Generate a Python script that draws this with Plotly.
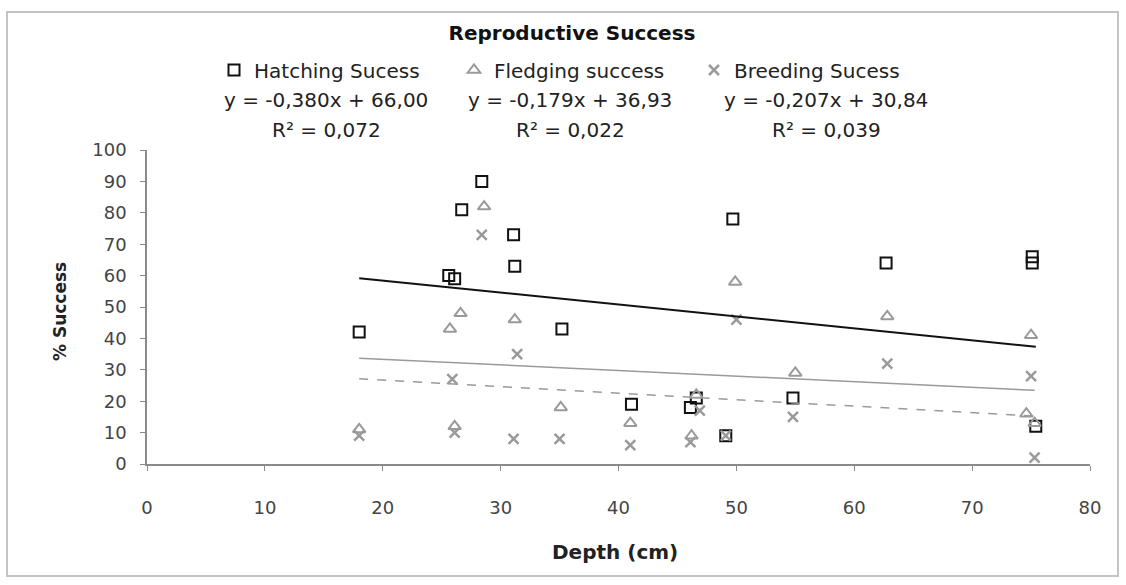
import plotly.graph_objects as go

# Nest depth (cm) and reproductive success (%) per nest
hatch_depth = [18.0, 25.6, 26.1, 26.7, 28.4, 31.1, 31.2, 35.2, 41.1, 46.1, 46.6, 49.1, 49.7, 54.8, 62.7, 75.1, 75.1, 75.4]
hatch_success = [42, 60, 59, 81, 90, 73, 63, 43, 19, 18, 21, 9, 78, 21, 64, 64, 66, 12]

fledge_depth = [18.0, 25.7, 26.6, 26.1, 28.6, 31.2, 35.1, 41.0, 46.2, 46.6, 49.9, 55.0, 62.8, 74.6, 75.0, 75.3]
fledge_success = [11, 43, 48, 12, 82, 46, 18, 13, 9, 22, 58, 29, 47, 16, 41, 13]

breed_depth = [18.0, 25.9, 26.1, 28.4, 31.1, 31.4, 35.0, 41.0, 46.1, 46.9, 49.1, 50.0, 54.8, 62.8, 75.0, 75.3]
breed_success = [9, 27, 10, 73, 8, 35, 8, 6, 7, 17, 9, 46, 15, 32, 28, 2]

# Linear trend coefficients (slope, intercept, R²)
series_names = ["Hatching Sucess", "Fledging success", "Breeding Sucess"]
slopes = [-0.380, -0.179, -0.207]
intercepts = [66.00, 36.93, 30.84]
r_squared = [0.072, 0.022, 0.039]

x_ticks = [0, 10, 20, 30, 40, 50, 60, 70, 80]
y_ticks = [0, 10, 20, 30, 40, 50, 60, 70, 80, 90, 100]

FONT = "DejaVu Sans"
GRAY = "#9a9a9a"

fig = go.Figure()

marker_styles = [
    dict(symbol="square-open", size=11, color="#111111", line=dict(width=2, color="#111111")),
    dict(symbol="triangle-up-open", size=11, color=GRAY, line=dict(width=2, color=GRAY)),
    dict(symbol="x-thin-open", size=10, color=GRAY, line=dict(width=2.5, color=GRAY)),
]
line_styles = [
    dict(color="#111111", width=2),
    dict(color=GRAY, width=1.5),
    dict(color=GRAY, width=1.5, dash="dash"),
]
datasets = [(hatch_depth, hatch_success), (fledge_depth, fledge_success), (breed_depth, breed_success)]

for i, (xs, ys) in enumerate(datasets):
    fig.add_trace(go.Scatter(
        x=xs, y=ys, mode="markers", name=series_names[i],
        marker=marker_styles[i], showlegend=True,
    ))

# Trend lines over the observed depth range of each series
for i, (xs, ys) in enumerate(datasets):
    x0, x1 = min(xs), max(xs)
    fig.add_trace(go.Scatter(
        x=[x0, x1],
        y=[slopes[i] * x0 + intercepts[i], slopes[i] * x1 + intercepts[i]],
        mode="lines", line=line_styles[i], showlegend=False, hoverinfo="skip",
    ))

# Equation and R² labels under each legend entry
label_centres = [(326 - 147) / 943, (570 - 147) / 943, (826 - 147) / 943]
for i in range(3):
    eq = f"y = {slopes[i]:.3f}x + {intercepts[i]:.2f}".replace(".", ",")
    r2 = f"R² = {r_squared[i]:.3f}".replace(".", ",")
    fig.add_annotation(x=label_centres[i], y=(464 - 100) / 314, xref="paper", yref="paper",
                       text=eq, showarrow=False, xanchor="center", yanchor="middle",
                       font=dict(family=FONT, size=20, color="#222222"))
    fig.add_annotation(x=label_centres[i], y=(464 - 130) / 314, xref="paper", yref="paper",
                       text=r2, showarrow=False, xanchor="center", yanchor="middle",
                       font=dict(family=FONT, size=20, color="#222222"))

# Axis titles
fig.add_annotation(x=(615 - 147) / 943, y=(464 - 552) / 314, xref="paper", yref="paper",
                   text="<b>Depth (cm)</b>", showarrow=False, xanchor="center", yanchor="middle",
                   font=dict(family=FONT, size=20, color="#222222"))
fig.add_annotation(x=(60 - 147) / 943, y=(464 - 312) / 314, xref="paper", yref="paper",
                   text="<b>% Success</b>", showarrow=False, textangle=-90,
                   xanchor="center", yanchor="middle",
                   font=dict(family=FONT, size=17, color="#222222"))

# Chart frame
fig.add_shape(type="rect", xref="paper", yref="paper",
              x0=(7 - 147) / 943, x1=(1118 - 147) / 943,
              y0=(464 - 576) / 314, y1=(464 - 12) / 314,
              line=dict(color="#c4c4c4", width=2), fillcolor="rgba(0,0,0,0)", layer="below")

fig.update_layout(
    width=1126, height=585,
    margin=dict(l=147, r=36, t=150, b=121),
    paper_bgcolor="white", plot_bgcolor="white",
    title=dict(text="<b>Reproductive Success</b>", x=572 / 1126, xanchor="center",
               y=1 - 33 / 585, yanchor="middle",
               font=dict(family=FONT, size=20, color="#111111")),
    legend=dict(orientation="h", x=(214 - 147) / 943, xanchor="left",
                y=(464 - 70) / 314, yanchor="middle",
                entrywidth=195, entrywidthmode="pixels",
                font=dict(family=FONT, size=20, color="#222222"),
                bgcolor="rgba(0,0,0,0)"),
    xaxis=dict(range=[0, 80], tickvals=x_ticks, showgrid=False, zeroline=False,
               showline=True, linecolor="#8a8a8a", linewidth=1.5,
               ticks="outside", ticklen=5, tickcolor="#8a8a8a",
               ticklabelstandoff=22,
               tickfont=dict(family=FONT, size=18, color="#444444")),
    yaxis=dict(range=[0, 100], tickvals=y_ticks, showgrid=False, zeroline=False,
               showline=True, linecolor="#8a8a8a", linewidth=1.5,
               ticks="outside", ticklen=5, tickcolor="#8a8a8a",
               ticklabelstandoff=10,
               tickfont=dict(family=FONT, size=18, color="#444444")),
    showlegend=True,
)

fig.write_html("out.html")
